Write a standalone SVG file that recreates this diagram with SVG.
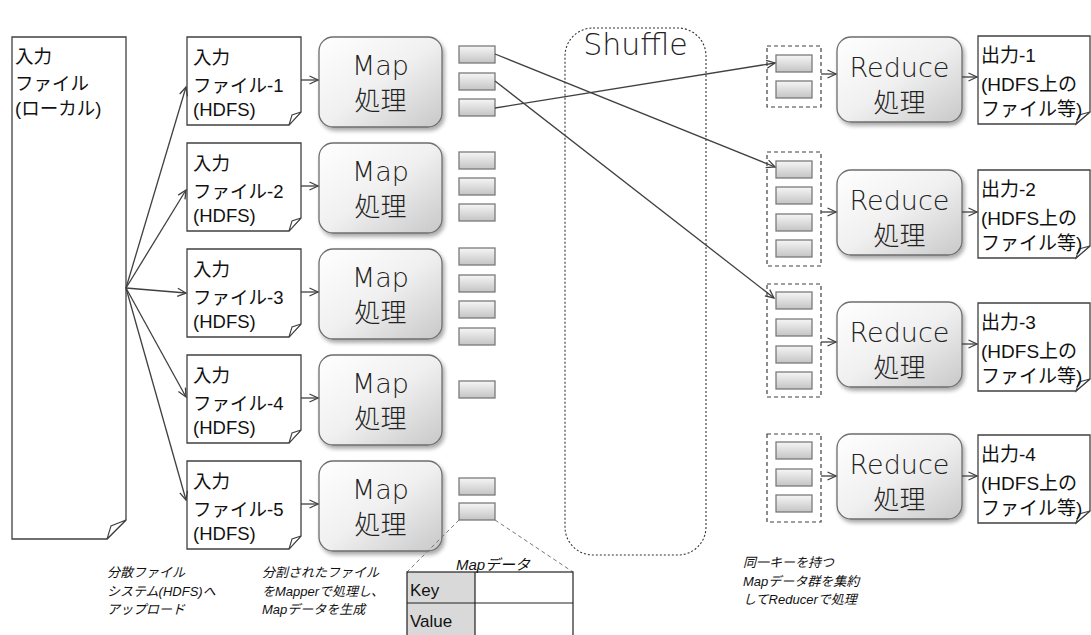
<svg xmlns="http://www.w3.org/2000/svg" width="1091" height="635" viewBox="0 0 1091 635">
<style>
.file{fill:#fff;stroke:#404040;stroke-width:1.3}
.fold{fill:#fff;stroke:#404040;stroke-width:1.1}
.proc{fill:url(#procGrad);stroke:#6e6e6e;stroke-width:1.3;filter:url(#shadow)}
.chip{fill:url(#chipGrad);stroke:#7a7a7a;stroke-width:1.3}
.grp{fill:none;stroke:#404040;stroke-width:1.2;stroke-dasharray:4 3}
.shuf{fill:none;stroke:#333;stroke-width:1.1;stroke-dasharray:2 2}
.conn{fill:none;stroke:#404040;stroke-width:1.3;marker-end:url(#arr)}
.lab{font-family:"Liberation Sans","Noto Sans CJK JP",sans-serif;font-size:18.5px;fill:#111}
.olab{font-family:"Liberation Sans","Noto Sans CJK JP",sans-serif;font-size:19px;fill:#111}
.big{font-family:"DejaVu Sans","Noto Sans CJK JP",sans-serif;font-size:27px;font-weight:300;fill:#222;text-anchor:middle}
.bigj{font-family:"Noto Sans CJK JP",sans-serif;font-size:26px;font-weight:300;fill:#222;text-anchor:middle}
.note{font-family:"Liberation Sans","Noto Sans CJK JP",sans-serif;font-size:13px;font-style:italic;fill:#111}
.tbl{font-family:"Liberation Sans",sans-serif;font-size:17px;fill:#111}
</style>
<defs>
<linearGradient id="procGrad" x1="0" y1="0" x2="1" y2="1">
<stop offset="0" stop-color="#ffffff"/>
<stop offset="0.5" stop-color="#f0f0f0"/>
<stop offset="1" stop-color="#c8c8c8"/>
</linearGradient>
<linearGradient id="chipGrad" x1="0" y1="0" x2="0" y2="1">
<stop offset="0" stop-color="#f6f6f6"/>
<stop offset="1" stop-color="#c4c4c4"/>
</linearGradient>
<filter id="shadow" x="-10%" y="-10%" width="125%" height="130%">
<feGaussianBlur in="SourceAlpha" stdDeviation="2"/>
<feOffset dx="2" dy="3" result="o"/>
<feComponentTransfer><feFuncA type="linear" slope="0.35"/></feComponentTransfer>
<feMerge><feMergeNode/><feMergeNode in="SourceGraphic"/></feMerge>
</filter>
<marker id="arr" markerUnits="userSpaceOnUse" markerWidth="12" markerHeight="12" refX="10" refY="5" orient="auto">
<path d="M1.5,1 L10,5 L1.5,9" fill="none" stroke="#404040" stroke-width="1.3"/>
</marker>
</defs>

<g id="local-file">
<polygon class="file" points="12,37 126,37 126,520 107,539 12,539"/>
<polygon class="fold" points="107,539 111,526 126,520"/>
<text class="lab" x="15" y="63">入力</text>
<text class="lab" x="15" y="90">ファイル</text>
<text class="lab" x="15" y="115">(ローカル)</text>
</g>

<g id="input-1">
<polygon class="file" points="187,37 301,37 301,112 289,125 187,125"/>
<polygon class="fold" points="289,125 292,115 301,112"/>
<text class="lab" x="193" y="64">入力</text>
<text class="lab" x="193" y="92">ファイル-1</text>
<text class="lab" x="193" y="116">(HDFS)</text>
</g>
<g id="input-2">
<polygon class="file" points="187,143 301,143 301,218 289,231 187,231"/>
<polygon class="fold" points="289,231 292,221 301,218"/>
<text class="lab" x="193" y="170">入力</text>
<text class="lab" x="193" y="198">ファイル-2</text>
<text class="lab" x="193" y="222">(HDFS)</text>
</g>
<g id="input-3">
<polygon class="file" points="187,249 301,249 301,324 289,337 187,337"/>
<polygon class="fold" points="289,337 292,327 301,324"/>
<text class="lab" x="193" y="276">入力</text>
<text class="lab" x="193" y="304">ファイル-3</text>
<text class="lab" x="193" y="328">(HDFS)</text>
</g>
<g id="input-4">
<polygon class="file" points="187,355 301,355 301,430 289,443 187,443"/>
<polygon class="fold" points="289,443 292,433 301,430"/>
<text class="lab" x="193" y="382">入力</text>
<text class="lab" x="193" y="410">ファイル-4</text>
<text class="lab" x="193" y="434">(HDFS)</text>
</g>
<g id="input-5">
<polygon class="file" points="187,461 301,461 301,536 289,549 187,549"/>
<polygon class="fold" points="289,549 292,539 301,536"/>
<text class="lab" x="193" y="488">入力</text>
<text class="lab" x="193" y="516">ファイル-5</text>
<text class="lab" x="193" y="540">(HDFS)</text>
</g>

<g id="map-1"><rect class="proc" x="319" y="37" width="123" height="90" rx="14"/><text class="big" x="380.5" y="75">Map</text><text class="bigj" x="380.5" y="110">処理</text></g>
<g id="map-2"><rect class="proc" x="319" y="143" width="123" height="90" rx="14"/><text class="big" x="380.5" y="181">Map</text><text class="bigj" x="380.5" y="216">処理</text></g>
<g id="map-3"><rect class="proc" x="319" y="249" width="123" height="90" rx="14"/><text class="big" x="380.5" y="287">Map</text><text class="bigj" x="380.5" y="322">処理</text></g>
<g id="map-4"><rect class="proc" x="319" y="355" width="123" height="90" rx="14"/><text class="big" x="380.5" y="393">Map</text><text class="bigj" x="380.5" y="428">処理</text></g>
<g id="map-5"><rect class="proc" x="319" y="461" width="123" height="90" rx="14"/><text class="big" x="380.5" y="499">Map</text><text class="bigj" x="380.5" y="534">処理</text></g>

<g id="map-data">
<rect class="chip" x="459" y="46" width="36" height="17"/>
<rect class="chip" x="459" y="73" width="36" height="17"/>
<rect class="chip" x="459" y="99" width="36" height="17"/>
<rect class="chip" x="459" y="152" width="36" height="17"/>
<rect class="chip" x="459" y="178" width="36" height="17"/>
<rect class="chip" x="459" y="204" width="36" height="17"/>
<rect class="chip" x="459" y="248" width="36" height="17"/>
<rect class="chip" x="459" y="275" width="36" height="17"/>
<rect class="chip" x="459" y="301" width="36" height="17"/>
<rect class="chip" x="459" y="328" width="36" height="17"/>
<rect class="chip" x="459" y="381" width="36" height="17"/>
<rect class="chip" x="459" y="478" width="36" height="17"/>
<rect class="chip" x="459" y="503" width="36" height="17"/>
</g>

<g id="shuffle">
<rect class="shuf" x="565" y="28" width="141" height="527" rx="28"/>
<text x="635.5" y="55" font-family="DejaVu Sans,sans-serif" font-size="30" font-weight="300" fill="#222" text-anchor="middle">Shuffle</text>
</g>

<g id="group-1"><rect class="grp" x="767" y="46" width="54" height="61"/><rect class="chip" x="776" y="55" width="36" height="17"/><rect class="chip" x="776" y="81" width="36" height="17"/></g>
<g id="group-2"><rect class="grp" x="767" y="152" width="54" height="114"/><rect class="chip" x="776" y="161" width="36" height="17"/><rect class="chip" x="776" y="187" width="36" height="17"/><rect class="chip" x="776" y="214" width="36" height="17"/><rect class="chip" x="776" y="240" width="36" height="17"/></g>
<g id="group-3"><rect class="grp" x="767" y="284" width="54" height="113"/><rect class="chip" x="776" y="292" width="36" height="17"/><rect class="chip" x="776" y="319" width="36" height="17"/><rect class="chip" x="776" y="346" width="36" height="17"/><rect class="chip" x="776" y="372" width="36" height="17"/></g>
<g id="group-4"><rect class="grp" x="767" y="434" width="54" height="88"/><rect class="chip" x="776" y="442" width="36" height="17"/><rect class="chip" x="776" y="469" width="36" height="17"/><rect class="chip" x="776" y="495" width="36" height="17"/></g>

<g id="reduce-1"><rect class="proc" x="837" y="37" width="125" height="85" rx="14"/><text class="big" x="899.5" y="77">Reduce</text><text class="bigj" x="899.5" y="112">処理</text></g>
<g id="reduce-2"><rect class="proc" x="837" y="170" width="125" height="85" rx="14"/><text class="big" x="899.5" y="210">Reduce</text><text class="bigj" x="899.5" y="245">処理</text></g>
<g id="reduce-3"><rect class="proc" x="837" y="302" width="125" height="85" rx="14"/><text class="big" x="899.5" y="342">Reduce</text><text class="bigj" x="899.5" y="377">処理</text></g>
<g id="reduce-4"><rect class="proc" x="837" y="434" width="125" height="85" rx="14"/><text class="big" x="899.5" y="474">Reduce</text><text class="bigj" x="899.5" y="509">処理</text></g>

<g id="output-1">
<polygon class="file" points="978,36 1090,36 1090,112 1076,124 978,124"/>
<polygon class="fold" points="1076,124 1079,115 1090,112"/>
<text class="olab" x="981" y="62">出力-1</text><text class="olab" x="981" y="91">(HDFS上の</text><text class="olab" x="981" y="116">ファイル等)</text>
</g>
<g id="output-2">
<polygon class="file" points="978,170 1090,170 1090,246 1076,258 978,258"/>
<polygon class="fold" points="1076,258 1079,249 1090,246"/>
<text class="olab" x="981" y="196">出力-2</text><text class="olab" x="981" y="225">(HDFS上の</text><text class="olab" x="981" y="250">ファイル等)</text>
</g>
<g id="output-3">
<polygon class="file" points="978,303 1090,303 1090,379 1076,391 978,391"/>
<polygon class="fold" points="1076,391 1079,382 1090,379"/>
<text class="olab" x="981" y="329">出力-3</text><text class="olab" x="981" y="358">(HDFS上の</text><text class="olab" x="981" y="383">ファイル等)</text>
</g>
<g id="output-4">
<polygon class="file" points="978,435 1090,435 1090,511 1076,523 978,523"/>
<polygon class="fold" points="1076,523 1079,514 1090,511"/>
<text class="olab" x="981" y="461">出力-4</text><text class="olab" x="981" y="490">(HDFS上の</text><text class="olab" x="981" y="515">ファイル等)</text>
</g>

<g id="connectors">
<line class="conn" x1="126" y1="288" x2="186" y2="87"/>
<line class="conn" x1="126" y1="288" x2="186" y2="190"/>
<line class="conn" x1="126" y1="288" x2="186" y2="293"/>
<line class="conn" x1="126" y1="288" x2="186" y2="397"/>
<line class="conn" x1="126" y1="288" x2="186" y2="500"/>
<line class="conn" x1="301" y1="80" x2="318" y2="80"/>
<line class="conn" x1="301" y1="186" x2="318" y2="186"/>
<line class="conn" x1="301" y1="292" x2="318" y2="292"/>
<line class="conn" x1="301" y1="398" x2="318" y2="398"/>
<line class="conn" x1="301" y1="504" x2="318" y2="504"/>
<line class="conn" x1="495" y1="54" x2="775" y2="167"/>
<line class="conn" x1="495" y1="81" x2="774" y2="298"/>
<line class="conn" x1="495" y1="108" x2="775" y2="63"/>
<line class="conn" x1="821" y1="74" x2="836" y2="74"/>
<line class="conn" x1="821" y1="212" x2="836" y2="212"/>
<line class="conn" x1="821" y1="342" x2="836" y2="342"/>
<line class="conn" x1="821" y1="476" x2="836" y2="476"/>
<line class="conn" x1="962" y1="77" x2="977" y2="77"/>
<line class="conn" x1="962" y1="212" x2="977" y2="212"/>
<line class="conn" x1="962" y1="344" x2="977" y2="344"/>
<line class="conn" x1="962" y1="476" x2="977" y2="476"/>
<line x1="459" y1="520" x2="407" y2="572" stroke="#777" stroke-width="1" stroke-dasharray="4 3"/>
<line x1="495" y1="520" x2="573" y2="572" stroke="#777" stroke-width="1" stroke-dasharray="4 3"/>
</g>

<g id="map-data-table">
<rect x="407" y="572" width="68" height="65" fill="#d9d9d9"/>
<rect x="407" y="572" width="166" height="65" fill="none" stroke="#222" stroke-width="1.2"/>
<line x1="407" y1="603" x2="573" y2="603" stroke="#222" stroke-width="1.2"/>
<line x1="475" y1="572" x2="475" y2="637" stroke="#222" stroke-width="1.2"/>
<text class="tbl" x="410" y="596">Key</text>
<text class="tbl" x="410" y="627">Value</text>
<text x="493" y="570" text-anchor="middle" font-family="Liberation Sans,Noto Sans CJK JP,sans-serif" font-size="15" font-style="italic" fill="#111">Mapデータ</text>
</g>

<g id="notes">
<text class="note" x="107" y="577">分散ファイル</text>
<text class="note" x="107" y="596">システム(HDFS)へ</text>
<text class="note" x="107" y="614">アップロード</text>
<text class="note" x="262" y="577">分割されたファイル</text>
<text class="note" x="262" y="596">をMapperで処理し、</text>
<text class="note" x="262" y="614">Mapデータを生成</text>
<text class="note" x="743" y="567">同一キーを持つ</text>
<text class="note" x="743" y="586">Mapデータ群を集約</text>
<text class="note" x="743" y="604">してReducerで処理</text>
</g>
</svg>
